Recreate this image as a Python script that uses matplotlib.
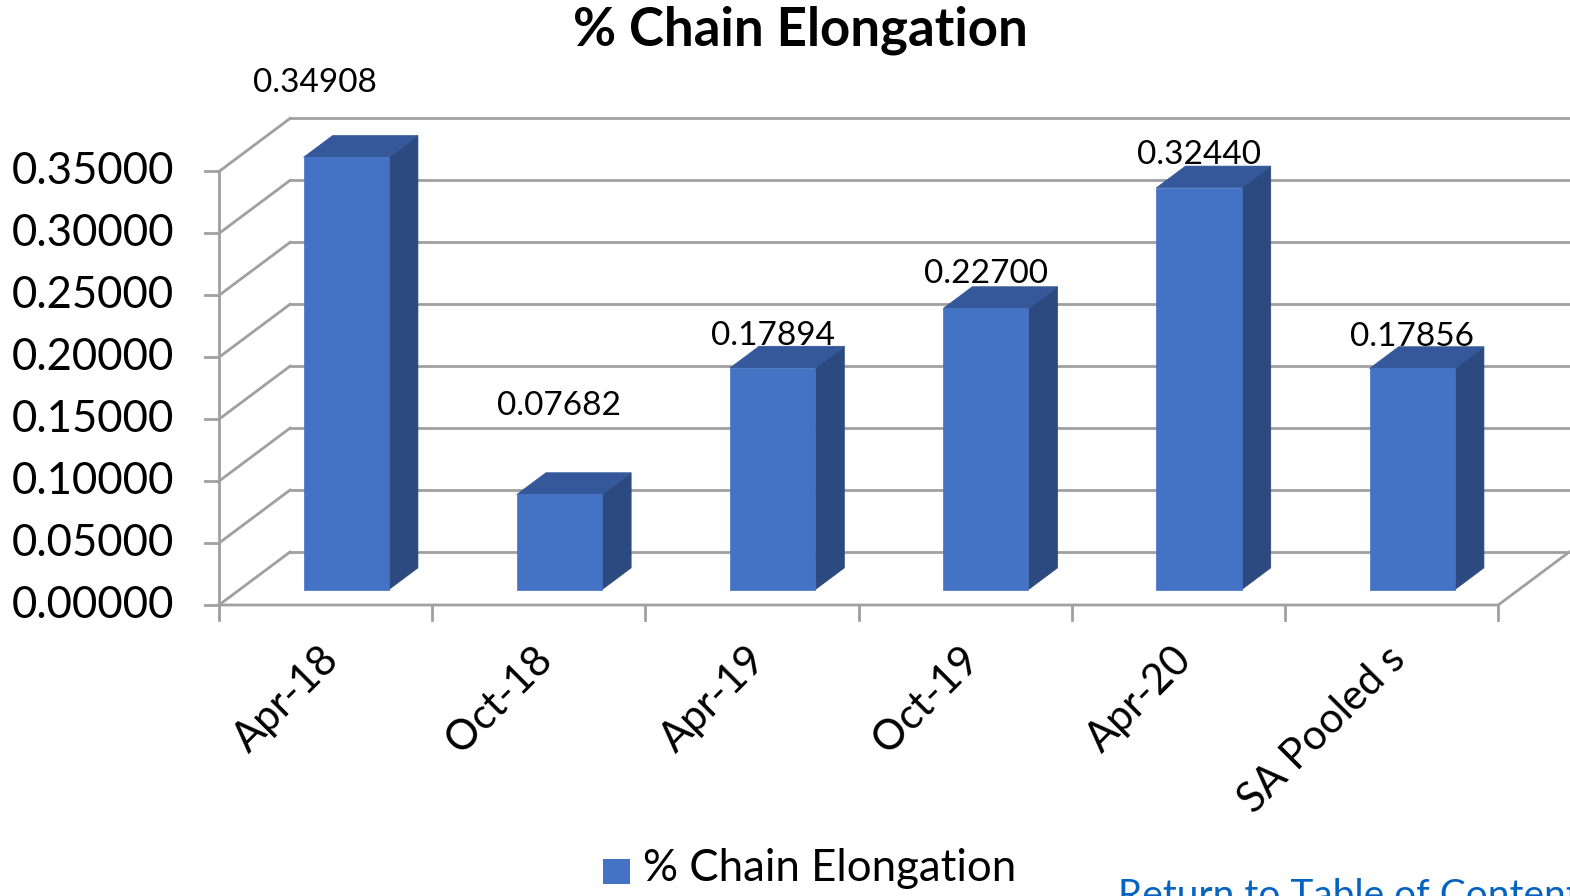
import matplotlib
matplotlib.use("Agg")
import matplotlib.pyplot as plt
from matplotlib.patches import Polygon, Rectangle

plt.rcParams['font.family'] = ['Lato', 'DejaVu Sans']

# data
categories = ["Apr-18", "Oct-18", "Apr-19", "Oct-19", "Apr-20", "SA Pooled s"]
values = [0.34908, 0.07682, 0.17894, 0.22700, 0.32440, 0.17856]
labels = ["0.34908", "0.07682", "0.17894", "0.22700", "0.32440", "0.17856"]
yticks = [0.0, 0.05, 0.10, 0.15, 0.20, 0.25, 0.30, 0.35]
series_name = "% Chain Elongation"

# label nudges (category units, value units), Excel moved the first two by hand
label_dx = [-0.147, 0, 0, 0, 0, 0]
label_dy = [0.072, 0.084, 0.038, 0.040, 0.039, 0.038]

FRONT = "#4472C4"
SIDE = "#2C4A7F"
TOP = "#34589A"
GRID = "#A0A0A0"

# oblique 3d: depth 1 shifts by DX categories and DY value units
W, H = 1570, 896
X0, CAT = 219, 213.2          # front axis px, px per category
Y0, UNIT = 605, 1238.6        # floor px, px per value unit
DX = 71 / CAT
DY = 53 / UNIT
BAR_W = 0.4
D0, D1 = 0.29, 0.70           # bar depth range

fig = plt.figure(figsize=(W / 100, H / 100), dpi=100)
ax = fig.add_axes([0, 0, 1, 1])
ax.set_xlim(-X0 / CAT, (W - X0) / CAT)
ax.set_ylim((Y0 - H) / UNIT, Y0 / UNIT)
ax.axis("off")

n = len(categories)
lw = 2.0
# back wall gridlines and side wall diagonals
for v in yticks:
    ax.plot([DX, n + DX], [v + DY, v + DY], color=GRID, lw=lw, zorder=1)
    ax.plot([0, DX], [v, v + DY], color=GRID, lw=lw, zorder=1)
    ax.plot([-14 / CAT, 0], [v, v], color=GRID, lw=lw, zorder=1)
    ax.text(-45 / CAT, v, f"{v:.5f}", ha="right", va="center", fontsize=31.5)
# floor + front axis
ax.plot([0, n, n + DX], [0, 0, DY], color=GRID, lw=lw, zorder=1)
ax.plot([0, 0], [0, yticks[-1]], color=GRID, lw=lw, zorder=1)
for i in range(n + 1):
    ax.plot([i, i], [0, -15 / UNIT], color=GRID, lw=lw, zorder=1)

for i, (v, lab) in enumerate(zip(values, labels)):
    xl = i + (1 - BAR_W) / 2 + D0 * DX
    xr = xl + BAR_W
    yb = D0 * DY
    yt = yb + v
    sx, sy = (D1 - D0) * DX, (D1 - D0) * DY
    ax.add_patch(Polygon([(xr, yb), (xr + sx, yb + sy), (xr + sx, yt + sy), (xr, yt)],
                         closed=True, facecolor=SIDE, edgecolor=SIDE, lw=0.5, zorder=3))
    ax.add_patch(Polygon([(xl, yt), (xr, yt), (xr + sx, yt + sy), (xl + sx, yt + sy)],
                         closed=True, facecolor=TOP, edgecolor=TOP, lw=0.5, zorder=3))
    ax.add_patch(Rectangle((xl, yb), BAR_W, v, facecolor=FRONT, edgecolor=FRONT,
                           lw=0.5, zorder=4))
    ax.text((xl + xr) / 2 + label_dx[i], v + label_dy[i], lab, ha="center", va="center",
            fontsize=24, zorder=5)
    ax.text(i + 0.5 + 0.097, -35 / UNIT, categories[i], rotation=45, ha="right", va="top",
            fontsize=30)

# title, legend, link
fig.text(800 / W, 1 - 30 / H, "% Chain Elongation", ha="center", va="center",
         fontsize=38, fontweight="bold")
fig.patches.append(Rectangle((603 / W, 1 - 884 / H), 27 / W, 25 / H, facecolor=FRONT,
                             transform=fig.transFigure, figure=fig))
fig.text(643 / W, 1 - 868 / H, series_name, ha="left", va="center", fontsize=31.5)
fig.text(1118 / W, 1 - 878 / H, "Return to Table of Contents", ha="left", va="top",
         fontsize=28, color="#0563C1")

fig.savefig("out.png", dpi=100)
